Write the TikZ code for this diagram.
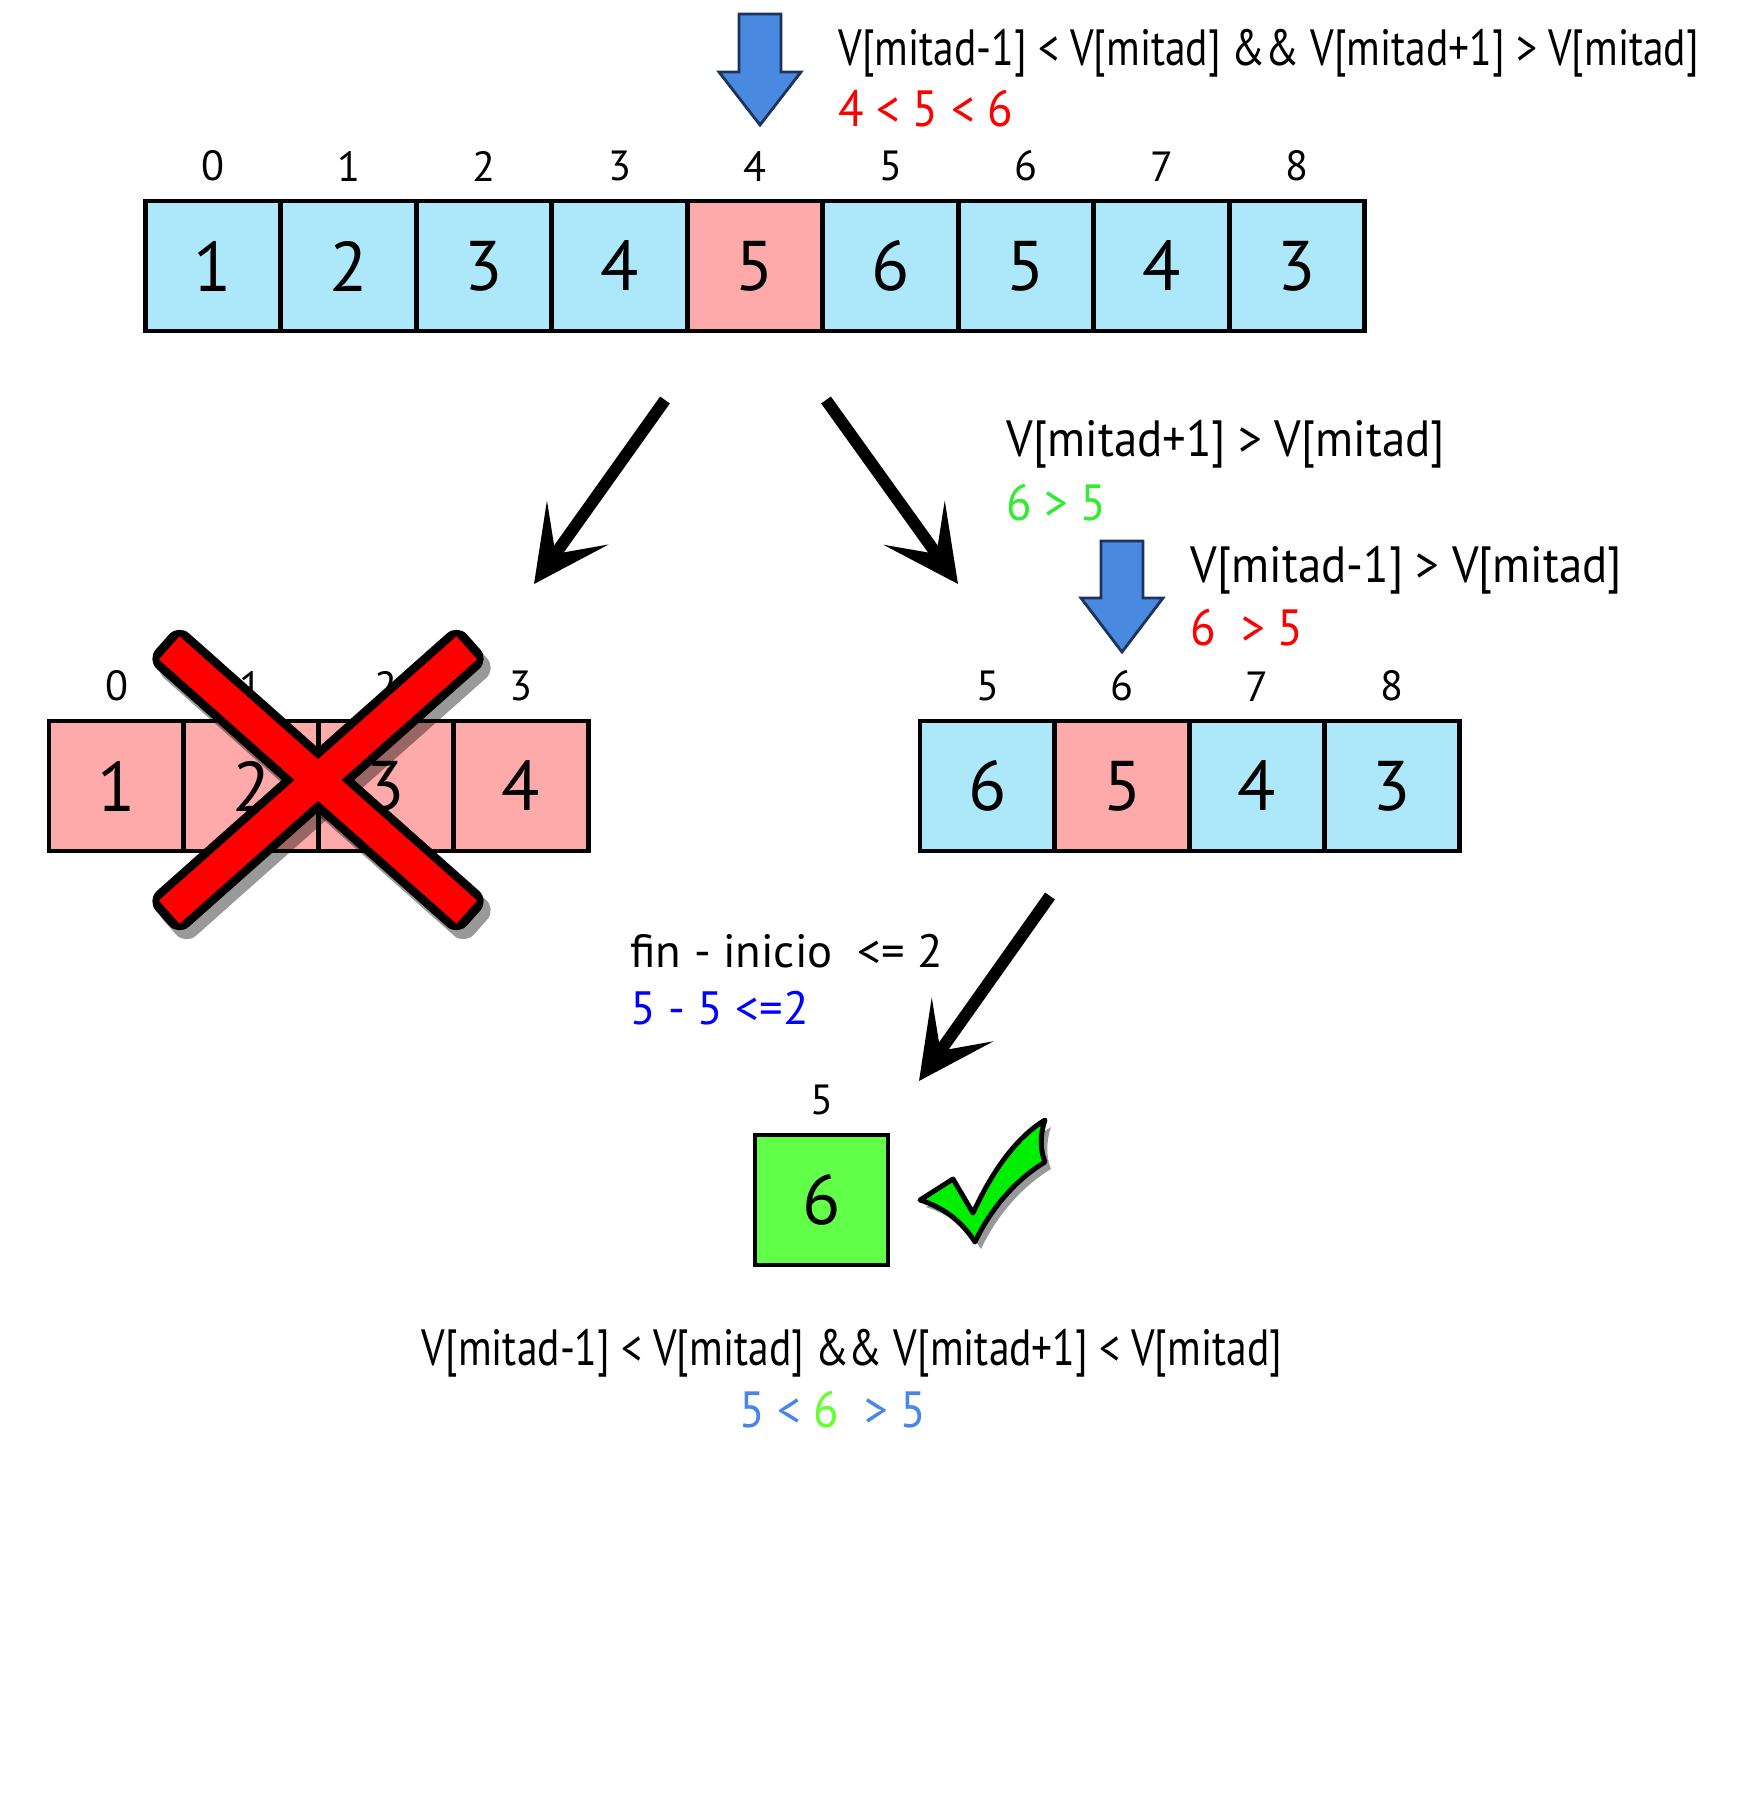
\documentclass[tikz,border=0pt]{standalone}
\usepackage{fontspec}
\setmainfont{PT Sans}
\newfontfamily\narrowfont[FakeStretch=0.815]{PT Sans}
\newfontfamily\midfont[FakeStretch=0.92]{PT Sans}
\usetikzlibrary{arrows.meta,positioning}

\definecolor{cellblue}{RGB}{173,232,250}
\definecolor{cellpink}{RGB}{255,170,170}
\definecolor{cellgreen}{RGB}{98,255,72}
\definecolor{arrowblue}{RGB}{74,137,224}
\definecolor{arrowedge}{RGB}{30,50,90}
\definecolor{textblue}{RGB}{74,134,232}
\definecolor{textgreen}{RGB}{50,235,50}
\definecolor{lightgreen}{RGB}{102,255,51}
\definecolor{checkgreen}{RGB}{0,238,0}

\tikzset{
  cell/.style={draw,line width=1.3pt,fill=cellblue,minimum width=13.5mm,minimum height=13mm,inner sep=0pt,font=\fontsize{20}{24}\selectfont},
  idx/.style={inner sep=0pt,font=\fontsize{12}{14}\selectfont},
  cond/.style={anchor=west,inner sep=0pt,font=\narrowfont\fontsize{14.5}{17}\selectfont},
  midcond/.style={anchor=west,inner sep=0pt,font=\midfont\fontsize{14.5}{17}\selectfont},
  plain/.style={anchor=west,inner sep=0pt,font=\fontsize{13.3}{16}\selectfont},
  bigarrow/.style={line width=3.4pt,-{Stealth[length=7.5mm,width=7.5mm,inset=3.8mm]}},
  downarrow/.style={fill=arrowblue,draw=arrowedge,line width=0.8pt,line join=miter}
}

\begin{document}
\begin{tikzpicture}[x=0.1mm,y=-0.1mm]
  \useasboundingbox (0,0) rectangle (1744,1820);

  % whole vector
  \foreach \v/\c [count=\i from 0] in {1/cellblue,2/cellblue,3/cellblue,4/cellblue,5/cellpink,6/cellblue,5/cellblue,4/cellblue,3/cellblue}
    \node[cell,fill=\c] (a\i) at (213+135.5*\i,266) {\v};
  \foreach \i in {0,...,8}
    \node[idx,above=1.7mm of a\i] (ia\i) {\i};

  % mitad marker
  \coordinate (tip4) at (760,125);
  \draw[downarrow] (tip4) -- ++(-41,-53) -- ++(20,0) -- ++(0,-58) -- ++(42,0) -- ++(0,58) -- ++(20,0) -- cycle;
  \node[cond] (cond1) at (838,53) {V[mitad-1] < V[mitad] \&\& V[mitad+1] > V[mitad]};
  \node[midcond,text=red] (val1) at (838,109) {4 < 5 < 6};

  % split
  \coordinate (ls) at (665,400);
  \coordinate (le) at (534,584);
  \coordinate (rs) at (826,400);
  \coordinate (re) at (958,584);
  \draw[bigarrow] (ls) -- (le);
  \draw[bigarrow] (rs) -- (re);

  % left half (discarded)
  \foreach \v [count=\i from 0] in {1,2,3,4}
    \node[cell,fill=cellpink] (b\i) at (116.5+134.75*\i,786) {\v};
  \foreach \i in {0,...,3}
    \node[idx,above=1.7mm of b\i] (ib\i) {\i};

  % red cross
  \begin{scope}[shift={(325,789)},rotate=-41.6]
    \fill[black,opacity=0.4,rounded corners=4pt] (-208,-24) rectangle (208,24);
  \end{scope}
  \begin{scope}[shift={(325,789)},rotate=41.6]
    \fill[black,opacity=0.4,rounded corners=4pt] (-208,-24) rectangle (208,24);
  \end{scope}
  \begin{scope}[shift={(318,780)},rotate=-41.6]
    \fill[black,rounded corners=4pt] (-208,-24) rectangle (208,24);
  \end{scope}
  \begin{scope}[shift={(318,780)},rotate=41.6]
    \fill[black,rounded corners=4pt] (-208,-24) rectangle (208,24);
  \end{scope}
  \begin{scope}[shift={(318,780)},rotate=-41.6]
    \fill[red] (-199,-15.5) rectangle (199,15.5);
  \end{scope}
  \begin{scope}[shift={(318,780)},rotate=41.6]
    \fill[red] (-199,-15.5) rectangle (199,15.5);
  \end{scope}

  % right half
  \node[midcond] (cond2) at (1006,444) {V[mitad+1] > V[mitad]};
  \node[midcond,text=textgreen] (val2) at (1006,503) {6 > 5};
  \foreach \v/\c/\k [count=\i from 0] in {6/cellblue/5,5/cellpink/6,4/cellblue/7,3/cellblue/8}
    \node[cell,fill=\c] (c\k) at (987.5+134.75*\i,786) {\v};
  \foreach \k in {5,...,8}
    \node[idx,above=1.7mm of c\k] (ic\k) {\k};
  \coordinate (tip6) at (1122,652);
  \draw[downarrow] (tip6) -- ++(-41,-54) -- ++(20,0) -- ++(0,-57) -- ++(42,0) -- ++(0,57) -- ++(20,0) -- cycle;
  \node[midcond] (cond3) at (1190,570) {V[mitad-1] > V[mitad]};
  \node[midcond,text=red] (val3) at (1190,628) {6\ \ > 5};

  % last step
  \coordinate (fs) at (1050,896);
  \coordinate (fe) at (919,1081);
  \draw[bigarrow] (fs) -- (fe);
  \node[plain] (cond4) at (630,951) {fin - inicio\ \ <= 2};
  \node[plain,text=blue] (val4) at (630,1008) {5 - 5 <=2};

  \node[cell,fill=cellgreen,minimum width=13.3mm] (d5) at (821.5,1200) {6};
  \node[idx,above=1.7mm of d5] (id5) {5};

  % check mark
  \fill[black,opacity=0.4] (926,1207) -- (959,1186) -- (979,1220) .. controls (1001,1172) and (1026,1142) .. (1051,1127) .. controls (1046,1142) and (1046,1157) .. (1051,1169) .. controls (1021,1187) and (996,1217) .. (981,1249) .. controls (968,1229) and (951,1215) .. (926,1207) -- cycle;
  \draw[fill=checkgreen,line width=1.4pt,line join=round] (920,1200) -- (953,1179) -- (973,1213) .. controls (995,1165) and (1020,1135) .. (1045,1120) .. controls (1040,1135) and (1040,1150) .. (1045,1162) .. controls (1015,1180) and (990,1210) .. (975,1242) .. controls (962,1222) and (945,1208) .. (920,1200) -- cycle;

  \node[cond,anchor=center] (cond5) at (852,1353) {V[mitad-1] < V[mitad] \&\& V[mitad+1] < V[mitad]};
  \node[midcond,anchor=center] (val5) at (833,1410) {\textcolor{textblue}{5 <} \textcolor{lightgreen}{6}\ \ \textcolor{textblue}{> 5}};
\end{tikzpicture}
\end{document}
